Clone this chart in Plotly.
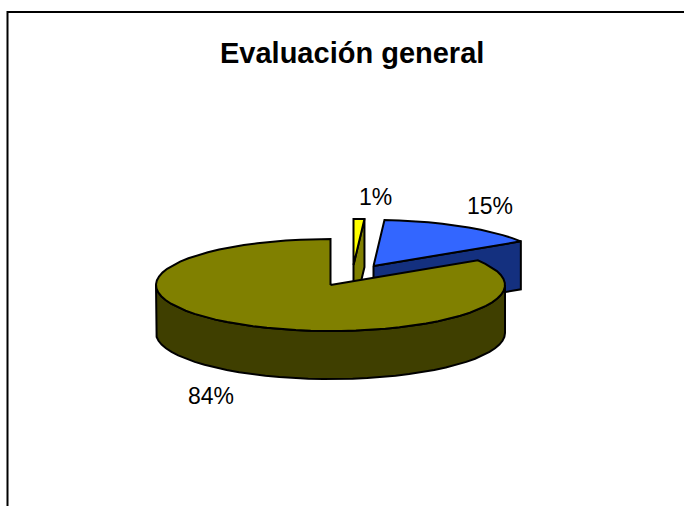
import numpy as np
import plotly.graph_objects as go

# Data
categories = ["A", "B", "C"]
values = [1, 15, 84]
title_text = "Evaluación general"

# Styles
top_colors = ["#ffff00", "#3366ff", "#808000"]
side_colors = ["#808000", "#14307f", "#3f3f00"]
explode_dx = [23, 43, 0]
explode_dy = [-20, -19, 0]
label_pos = [(375, 197), (490, 206), (211, 396)]

CX, CY, RX, RY, DEPTH = 330.5, 285.0, 174.5, 46.0, 48.0
LW = 2.0


def arc(cx, cy, a0, a1, dy=0.0):
    n = max(2, int(abs(a1 - a0) / 5) + 2)
    t = np.radians(np.linspace(a0, a1, n))
    return cx + RX * np.sin(t), cy - RY * np.cos(t) + dy


def poly(fig, x, y, color):
    fig.add_trace(go.Scatter(
        x=list(x), y=list(y), mode="lines", fill="toself", fillcolor=color,
        line=dict(color="black", width=LW), hoverinfo="skip", showlegend=False))


fig = go.Figure()
angles = np.cumsum([0] + values) / sum(values) * 360

for i, name in enumerate(categories):
    a0, a1 = angles[i], angles[i + 1]
    cx, cy = CX + explode_dx[i], CY + explode_dy[i]
    # cut face at the slice's end angle, for the detached slices
    if a1 < 180:
        ex, ey = arc(cx, cy, a1, a1)
        ex, ey = ex[0], ey[0]
        poly(fig, [cx, ex, ex, cx, cx], [cy, ey, ey + DEPTH, cy + DEPTH, cy], side_colors[i])
    # outer wall on the visible front half
    w0, w1 = max(a0, 90), min(a1, 270)
    if w1 > w0:
        xa, ya = arc(cx, cy, w0, w1)
        xb, yb = arc(cx, cy, w1, w0, DEPTH)
        poly(fig, np.r_[xa, xb, xa[0]], np.r_[ya, yb, ya[0]], side_colors[i])
    # top surface
    xt, yt = arc(cx, cy, a0, a1)
    poly(fig, np.r_[cx, xt, cx], np.r_[cy, yt, cy], top_colors[i])

annotations = [dict(x=352, y=53, xref="x", yref="y", text=f"<b>{title_text}</b>", showarrow=False,
                    font=dict(family="Liberation Sans", size=29, color="black"))]
for v, (lx, ly) in zip(values, label_pos):
    annotations.append(dict(x=lx, y=ly, xref="x", yref="y", text=f"{v}%", showarrow=False,
                            font=dict(family="Liberation Sans", size=23, color="black")))

fig.update_layout(
    width=684, height=506, margin=dict(l=0, r=0, t=0, b=0),
    paper_bgcolor="white", plot_bgcolor="white", showlegend=False,
    xaxis=dict(range=[0, 684], visible=False, fixedrange=True),
    yaxis=dict(range=[506, 0], visible=False, fixedrange=True),
    annotations=annotations,
    shapes=[
        dict(type="line", xref="x", yref="y", x0=7.5, x1=7.5, y0=11, y1=506, line=dict(color="black", width=2)),
        dict(type="line", xref="x", yref="y", x0=7, x1=684, y0=12, y1=12, line=dict(color="black", width=2)),
    ],
)
fig.write_html("out.html", config={"displayModeBar": False},
               post_script="document.body.style.margin='0';")
